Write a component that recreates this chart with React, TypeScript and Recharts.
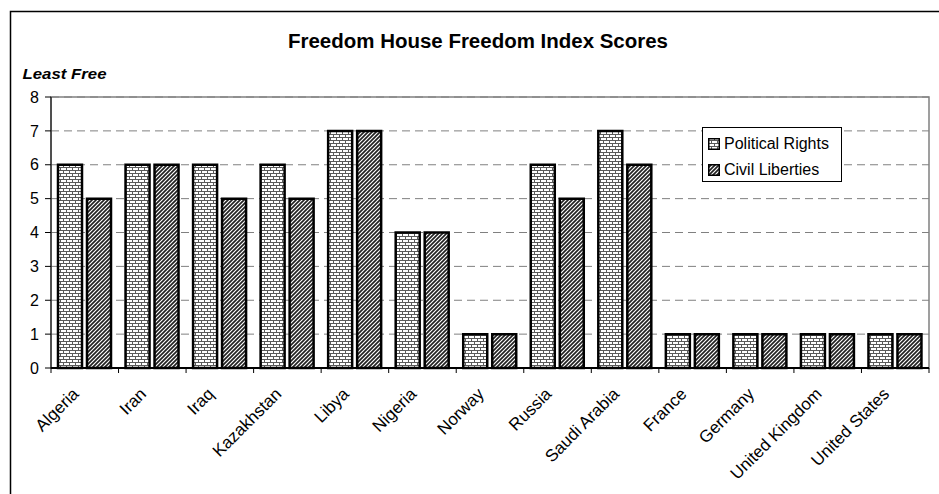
import React from 'react';
import {
  BarChart,
  Bar,
  XAxis,
  YAxis,
  CartesianGrid,
  ReferenceArea,
  Legend,
} from 'recharts';

const COUNTRIES = [
  'Algeria',
  'Iran',
  'Iraq',
  'Kazakhstan',
  'Libya',
  'Nigeria',
  'Norway',
  'Russia',
  'Saudi Arabia',
  'France',
  'Germany',
  'United Kingdom',
  'United States',
];
const POLITICAL_RIGHTS = [6, 6, 6, 6, 7, 4, 1, 6, 7, 1, 1, 1, 1];
const CIVIL_LIBERTIES = [5, 6, 5, 5, 7, 4, 1, 5, 6, 1, 1, 1, 1];
const Y_TICKS = [0, 1, 2, 3, 4, 5, 6, 7, 8];

const data = COUNTRIES.map((name, i) => ({
  name,
  political: POLITICAL_RIGHTS[i],
  civil: CIVIL_LIBERTIES[i],
}));

const W = 939;
const H = 494;
const MARGIN = { top: 97, right: 10, left: 6, bottom: 26 };
const Y_AXIS_W = 45;
const X_AXIS_H = 100;
const PLOT_LEFT = MARGIN.left + Y_AXIS_W;
const PLOT_RIGHT = W - MARGIN.right;
const PLOT_BOTTOM = H - MARGIN.bottom - X_AXIS_H;
const BAND = (PLOT_RIGHT - PLOT_LEFT) / COUNTRIES.length;
const FONT = '"Liberation Sans", Arial, sans-serif';

const XTick = (props: any) => {
  const { x, payload, index } = props;
  const tx = x - 5;
  const ty = PLOT_BOTTOM + 27;
  return (
    <g>
      <line x1={x - BAND / 2} x2={x - BAND / 2} y1={PLOT_BOTTOM} y2={PLOT_BOTTOM + 5} stroke="#000" />
      {index === COUNTRIES.length - 1 && (
        <line x1={x + BAND / 2} x2={x + BAND / 2} y1={PLOT_BOTTOM} y2={PLOT_BOTTOM + 5} stroke="#000" />
      )}
      <text
        x={tx}
        y={ty}
        transform={`rotate(-45 ${tx} ${ty})`}
        textAnchor="end"
        fontSize={17}
        fontFamily={FONT}
        fill="#000"
      >
        {payload.value}
      </text>
    </g>
  );
};

const LegendBox = () => (
  <div
    style={{
      border: '1px solid #000',
      background: '#fff',
      width: 140,
      height: 55,
      fontFamily: FONT,
      fontSize: 16,
      color: '#000',
      boxSizing: 'border-box',
      padding: '6px 0 0 5px',
    }}
  >
    {[
      { label: 'Political Rights', fill: 'url(#brick)' },
      { label: 'Civil Liberties', fill: 'url(#hatch)' },
    ].map((it) => (
      <div key={it.label} style={{ display: 'flex', alignItems: 'center', height: 20, marginBottom: 6 }}>
        <svg width={12} height={12} style={{ marginRight: 4 }}>
          <rect x={0.75} y={0.75} width={10.5} height={10.5} fill={it.fill} stroke="#000" strokeWidth={1.5} />
        </svg>
        <span>{it.label}</span>
      </div>
    ))}
  </div>
);

export default function App() {
  return (
    <div style={{ position: 'absolute', left: 0, top: 0, width: W, height: H, background: '#fff', overflow: 'hidden' }}>
      <svg width={0} height={0} style={{ position: 'absolute' }}>
        <defs>
          <pattern id="brick" patternUnits="userSpaceOnUse" width={6} height={6}>
            <rect width={6} height={6} fill="#fff" />
            <path d="M0 2.5H6M0 5.5H6M0.5 0V2.5M3.5 3V5.5" stroke="#5a5a5a" strokeWidth={1} />
          </pattern>
          <pattern id="hatch" patternUnits="userSpaceOnUse" width={4} height={4}>
            <rect width={4} height={4} fill="#fff" />
            <path d="M0 4L4 0M-1 1L1 -1M3 5L5 3" stroke="#222" strokeWidth={1.7} />
          </pattern>
        </defs>
      </svg>
      <svg width={W} height={H} style={{ position: 'absolute', left: 0, top: 0 }}>
        <path d={`M10.5 ${H} V11.5 H${W}`} fill="none" stroke="#000" strokeWidth={1.5} />
      </svg>
      <div style={{ position: 'absolute', left: 0, top: 0 }}>
        <BarChart width={W} height={H} data={data} margin={MARGIN} barSize={24} barGap={5}>
          <CartesianGrid horizontal vertical={false} stroke="#808080" strokeDasharray="8 5" />
          <ReferenceArea y1={0} y2={8} fill="none" stroke="#808080" strokeWidth={1.5} />
          <XAxis
            dataKey="name"
            height={X_AXIS_H}
            interval={0}
            tickLine={false}
            axisLine={{ stroke: '#000', strokeWidth: 2 }}
            tick={<XTick />}
          />
          <YAxis
            width={Y_AXIS_W}
            domain={[0, 8]}
            ticks={Y_TICKS}
            tickSize={6}
            tickMargin={6}
            axisLine={{ stroke: '#000' }}
            tickLine={{ stroke: '#000' }}
            tick={{ fontSize: 16, fill: '#000', fontFamily: FONT }}
          />
          <Legend
            layout="vertical"
            align="center"
            verticalAlign="middle"
            wrapperStyle={{ left: 702, top: 127, width: 140, height: 55 }}
            content={<LegendBox />}
          />
          <Bar dataKey="political" name="Political Rights" fill="url(#brick)" stroke="#000" strokeWidth={2.5} isAnimationActive={false} />
          <Bar dataKey="civil" name="Civil Liberties" fill="url(#hatch)" stroke="#000" strokeWidth={2.5} isAnimationActive={false} />
        </BarChart>
      </div>
      <svg width={W} height={H} style={{ position: 'absolute', left: 0, top: 0, pointerEvents: 'none' }}>
        <text x={478} y={47.5} textAnchor="middle" fontFamily={FONT} fontWeight="bold" fontSize={19.5} textLength={380} lengthAdjust="spacingAndGlyphs">
          Freedom House Freedom Index Scores
        </text>
        <text x={22.5} y={79} fontFamily={FONT} fontWeight="bold" fontStyle="italic" fontSize={15} textLength={84} lengthAdjust="spacingAndGlyphs">
          Least Free
        </text>
      </svg>
    </div>
  );
}
